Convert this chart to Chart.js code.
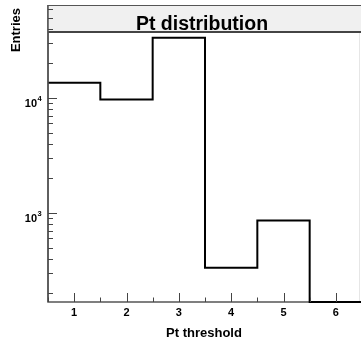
<!DOCTYPE html>
<html>
<head>
<meta charset="utf-8">
<script src="https://cdn.jsdelivr.net/npm/chart.js@4/dist/chart.umd.min.js"></script>
<style>
  html, body { margin: 0; padding: 0; background: #fff; overflow: hidden; }
  canvas { display: block; }
</style>
</head>
<body>
<canvas id="c" width="362" height="341"></canvas>
<script>
// histogram data
var binCenters = [1, 2, 3, 4, 5, 6];
var entries = [13600, 9700, 33400, 334, 858, 168];
var xTickValues = [1, 2, 3, 4, 5, 6];
var yDecades = [3, 4]; // labels 10^3, 10^4

var FONT = '"Liberation Sans", Arial, Helvetica, sans-serif';

// step line through the bin edges
var steps = [];
binCenters.forEach(function (c, i) {
  steps.push({ x: c - 0.5, y: entries[i] });
});
steps.push({ x: binCenters[binCenters.length - 1] + 0.5, y: entries[entries.length - 1] });

var rootStyle = {
  id: 'rootStyle',
  beforeDatasetsDraw: function (chart) {
    var ctx = chart.ctx, a = chart.chartArea;
    ctx.save();
    // title box
    ctx.fillStyle = '#f0f0f0';
    ctx.fillRect(a.left, 5, a.right - a.left, 27);
    ctx.strokeStyle = '#555';
    ctx.lineWidth = 1;
    ctx.beginPath();
    ctx.moveTo(a.left, 5.5); ctx.lineTo(a.right, 5.5);
    ctx.stroke();
    ctx.strokeStyle = '#444';
    ctx.lineWidth = 2;
    ctx.beginPath();
    ctx.moveTo(a.left, 32); ctx.lineTo(a.right, 32);
    ctx.stroke();
    // faint pad edge
    ctx.strokeStyle = '#e6e6e6';
    ctx.lineWidth = 1;
    ctx.beginPath();
    ctx.moveTo(359.5, 33); ctx.lineTo(359.5, a.bottom);
    ctx.stroke();

    ctx.fillStyle = '#000';
    ctx.font = 'bold 19.5px ' + FONT;
    ctx.textAlign = 'center';
    ctx.textBaseline = 'alphabetic';
    ctx.fillText('Pt distribution', 202, 29.5);
    ctx.restore();
  },
  beforeDraw: function (chart) {
    var ctx = chart.ctx, a = chart.chartArea;
    // axes drawn under the histogram line
    ctx.save();
    ctx.strokeStyle = '#555';
    ctx.lineWidth = 1.5;
    ctx.beginPath();
    ctx.moveTo(a.left, 5); ctx.lineTo(a.left, a.bottom);
    ctx.lineTo(a.right, a.bottom);
    ctx.stroke();
    ctx.restore();
  },
  afterDatasetsDraw: function (chart) {
    var ctx = chart.ctx, a = chart.chartArea;
    var xs = chart.scales.x, ys = chart.scales.y;
    ctx.save();
    ctx.strokeStyle = '#555';
    ctx.lineWidth = 1.5;
    ctx.beginPath();
    ctx.moveTo(a.left, 5); ctx.lineTo(a.left, a.bottom);
    ctx.stroke();

    // x ticks (inside)
    ctx.lineWidth = 1;
    ctx.strokeStyle = '#444';
    ctx.beginPath();
    for (var v = xs.min; v <= xs.max + 1e-9; v += 0.5) {
      var px = Math.round(xs.getPixelForValue(v)) + 0.5;
      var major = Math.abs(v - Math.round(v)) < 1e-9;
      ctx.moveTo(px, a.bottom);
      ctx.lineTo(px, a.bottom - (major ? 9 : 4.5));
    }
    ctx.stroke();

    // y ticks (inside), log scale
    ctx.beginPath();
    for (var d = 2; d <= 4; d++) {
      for (var m = 1; m <= 9; m++) {
        var val = m * Math.pow(10, d);
        if (val < ys.min || val > ys.max) continue;
        var py = Math.round(ys.getPixelForValue(val)) + 0.5;
        ctx.moveTo(a.left, py);
        ctx.lineTo(a.left + (m === 1 ? 9 : 5), py);
      }
    }
    ctx.stroke();

    // x tick labels
    ctx.fillStyle = '#000';
    ctx.font = 'bold 11px ' + FONT;
    ctx.textAlign = 'center';
    ctx.textBaseline = 'alphabetic';
    xTickValues.forEach(function (t) {
      ctx.fillText(String(t), xs.getPixelForValue(t), 316);
    });

    // y tick labels 10^n
    yDecades.forEach(function (e) {
      var py = ys.getPixelForValue(Math.pow(10, e));
      ctx.font = 'bold 11px ' + FONT;
      ctx.textAlign = 'right';
      ctx.fillText('10', 37, py + 9);
      ctx.font = 'bold 7.5px ' + FONT;
      ctx.textAlign = 'left';
      ctx.fillText(String(e), 37.5, py + 3.5);
    });

    // axis titles
    ctx.font = 'bold 13px ' + FONT;
    ctx.textAlign = 'center';
    ctx.fillText('Pt threshold', 204, 337);

    ctx.save();
    ctx.translate(19.5, 8);
    ctx.rotate(-Math.PI / 2);
    ctx.textAlign = 'right';
    ctx.fillText('Entries', 0, 0);
    ctx.restore();
    ctx.restore();
  }
};

new Chart(document.getElementById('c').getContext('2d'), {
  type: 'line',
  data: {
    datasets: [{
      data: steps,
      stepped: 'before',
      borderColor: '#000',
      borderWidth: 2,
      pointRadius: 0,
      fill: false,
      clip: 2
    }]
  },
  options: {
    responsive: false,
    animation: false,
    devicePixelRatio: 1,
    layout: { padding: { left: 48, top: 5, right: 0, bottom: 39 } },
    plugins: { legend: { display: false }, tooltip: { enabled: false }, title: { display: false } },
    scales: {
      x: { type: 'linear', min: 0.5, max: 6.5, display: false },
      y: { type: 'logarithmic', min: 168, max: 64400, display: false }
    }
  },
  plugins: [rootStyle]
});
</script>
</body>
</html>
